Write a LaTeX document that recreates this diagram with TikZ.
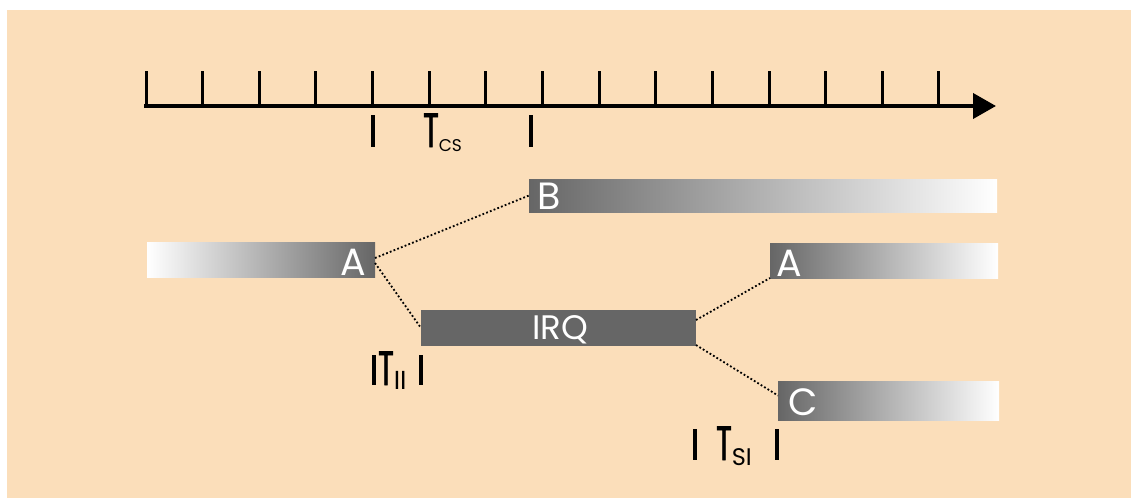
\documentclass[tikz,border=0pt]{standalone}
\usepackage{fontspec}
\setmainfont{Poppins}
\newfontfamily\narrowfont[FakeStretch=0.6,FakeBold=1.6]{Poppins}
\usetikzlibrary{arrows.meta,calc}
\definecolor{paper}{RGB}{251,222,186}
\definecolor{bargray}{RGB}{102,102,102}

\begin{document}
\begin{tikzpicture}[x=1pt,y=-1pt,
  bar/.style={draw=none,inner sep=0pt,outer sep=0pt},
  fadeout/.style={bar,left color=bargray,right color=white},
  fadein/.style={bar,left color=white,right color=bargray},
  solidbar/.style={bar,fill=bargray},
  barlabel/.style={text=white,inner sep=0pt,font=\fontsize{38}{38}\selectfont},
  link/.style={line width=1.8pt,dash pattern=on 1.8pt off 2.2pt},
  marker/.style={line width=4pt},
  axistick/.style={line width=3pt},
  tlabel/.style={inner sep=0pt,anchor=base west},
]
\useasboundingbox (0,0) rectangle (1131,499);
\fill[paper] (7,10) rectangle (1131,498);

% time axis with ticks
\draw[line width=4pt,-{Triangle[length=23pt,width=25pt]}] (144,106) -- (996,106);
\foreach \i in {0,...,14}
  \draw[axistick] ({146+56.64*\i},71) -- ({146+56.64*\i},106);

% context switch interval
\draw[marker] (373,115) -- (373,147);
\draw[marker] (531,115) -- (531,147);
\node[tlabel] (tcs) at (423,147)
  {{\narrowfont\fontsize{48}{48}\selectfont T}\raisebox{-4pt}{\fontsize{17}{17}\selectfont CS}};

% task bars
\node[fadeout,minimum width=468pt,minimum height=33pt] (b) at (763,195.5) {};
\node[fadein,minimum width=228pt,minimum height=35pt] (aleft) at (261,259.5) {};
\node[fadeout,minimum width=228pt,minimum height=35pt] (aright) at (884,260.5) {};
\node[solidbar,minimum width=275pt,minimum height=36pt] (irq) at (558.5,328) {};
\node[fadeout,minimum width=221pt,minimum height=39pt] (c) at (888.5,400.5) {};

\node[barlabel,anchor=base west] (blab) at ($(b.south west)+(8,-3)$) {B};
\node[barlabel,anchor=base east] (alab1) at ($(aleft.south east)+(-9,-2)$) {A};
\node[barlabel,anchor=base west] (alab2) at ($(aright.south west)+(6,-2)$) {A};
\node[barlabel,anchor=base,font=\fontsize{34}{34}\selectfont] (irqlab) at ($(irq.south)+(2,-7)$) {IRQ};
\node[barlabel,anchor=base west] (clab) at ($(c.south west)+(10,-5)$) {C};

% transitions
\draw[link] ($(aleft.east)+(0,-1.5)$) -- (b.west);
\draw[link] ($(aleft.east)+(0,3.5)$) -- (irq.west);
\draw[link] ($(irq.east)+(0,-8)$) -- (aright.south west);
\draw[link] ($(irq.south east)+(0,-1)$) -- ($(c.west)+(0,-5)$);

% interrupt latency
\draw[marker] (374,355) -- (374,385);
\draw[marker] (421,355) -- (421,385);
\node[tlabel] (tii) at (378,385)
  {{\narrowfont\fontsize{48}{48}\selectfont T}\raisebox{-4pt}{\fontsize{26}{26}\selectfont II}};

% interrupt service time
\draw[marker] (695,429) -- (695,460);
\draw[marker] (777,429) -- (777,460);
\node[tlabel] (tsi) at (716,460)
  {{\narrowfont\fontsize{48}{48}\selectfont T}\raisebox{-5pt}{\fontsize{24}{24}\selectfont SI}};
\end{tikzpicture}
\end{document}
